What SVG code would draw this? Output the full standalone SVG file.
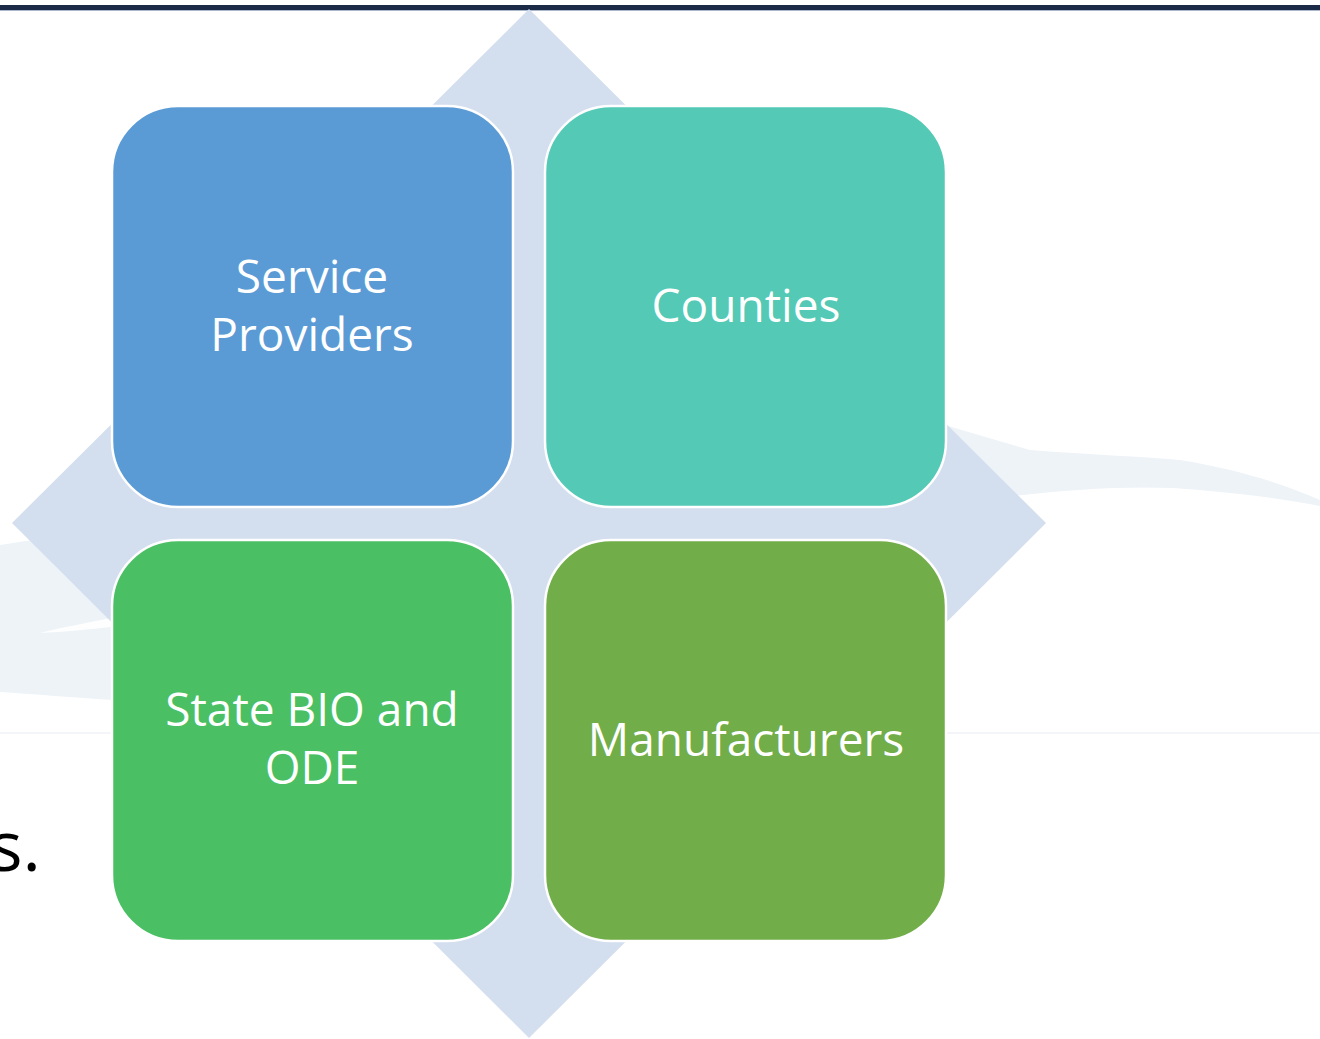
<svg xmlns="http://www.w3.org/2000/svg" width="1320" height="1039" viewBox="0 0 1320 1039">
  <style>
    .box { stroke: #ffffff; stroke-width: 2.5; }
    .lbl { font-family: "Open Sans", "Noto Sans", "Liberation Sans", sans-serif; font-size: 46px; fill: #ffffff; text-anchor: middle; }
    .swoosh { fill: #EEF3F8; }
  </style>
  <rect x="0" y="0" width="1320" height="1039" fill="#ffffff"/>
  <!-- background swooshes -->
  <g id="background">
    <path class="swoosh" d="M948,426 L1030,450 C1090,455 1140,456 1180,460 C1230,468 1280,482 1320,500 L1320,506 C1280,498 1230,492 1173,488 C1120,486 1070,490 1023,495 L948,500 Z"/>
    <path class="swoosh" d="M0,545 C30,540 70,535 112,530 L112,700 C70,697 30,694 0,692 Z"/>
    <path d="M40,633 C60,628 90,622 112,618 L112,627 C90,629 65,632 40,633 Z" fill="#ffffff" opacity="0.9"/>
    <line x1="0" y1="733" x2="1320" y2="733" stroke="#F3F5F8" stroke-width="2"/>
    <rect x="0" y="5" width="1320" height="5" fill="#1B2A47"/>
    <line x1="0" y1="10.5" x2="1320" y2="10.5" stroke="#A9B8CC" stroke-width="1"/>
  </g>
  <!-- central diamond -->
  <g id="diamond">
    <polygon points="529,9 1046,523 529,1038 12,523" fill="#D3DEEF"/>
  </g>
  <g id="connectors"></g>
  <g id="node-service-providers">
    <rect class="box" x="112" y="106" width="401" height="401" rx="66" fill="#5B9BD5"/>
    <text class="lbl" x="312" y="293">Service</text>
    <text class="lbl" x="312" y="351">Providers</text>
  </g>
  <g id="node-counties">
    <rect class="box" x="545" y="106" width="401" height="401" rx="66" fill="#53C9B6"/>
    <text class="lbl" x="746" y="322">Counties</text>
  </g>
  <g id="node-state-bio">
    <rect class="box" x="112" y="540" width="401" height="401" rx="66" fill="#4ABF64"/>
    <text class="lbl" x="312" y="726">State BIO and</text>
    <text class="lbl" x="312" y="784">ODE</text>
  </g>
  <g id="node-manufacturers">
    <rect class="box" x="545" y="540" width="401" height="401" rx="66" fill="#71AD48"/>
    <text class="lbl" x="746" y="756">Manufacturers</text>
  </g>
  <text x="41" y="871" font-family="Open Sans, Noto Sans, Liberation Sans, sans-serif" font-size="70" fill="#000000" text-anchor="end">s.</text>
</svg>
